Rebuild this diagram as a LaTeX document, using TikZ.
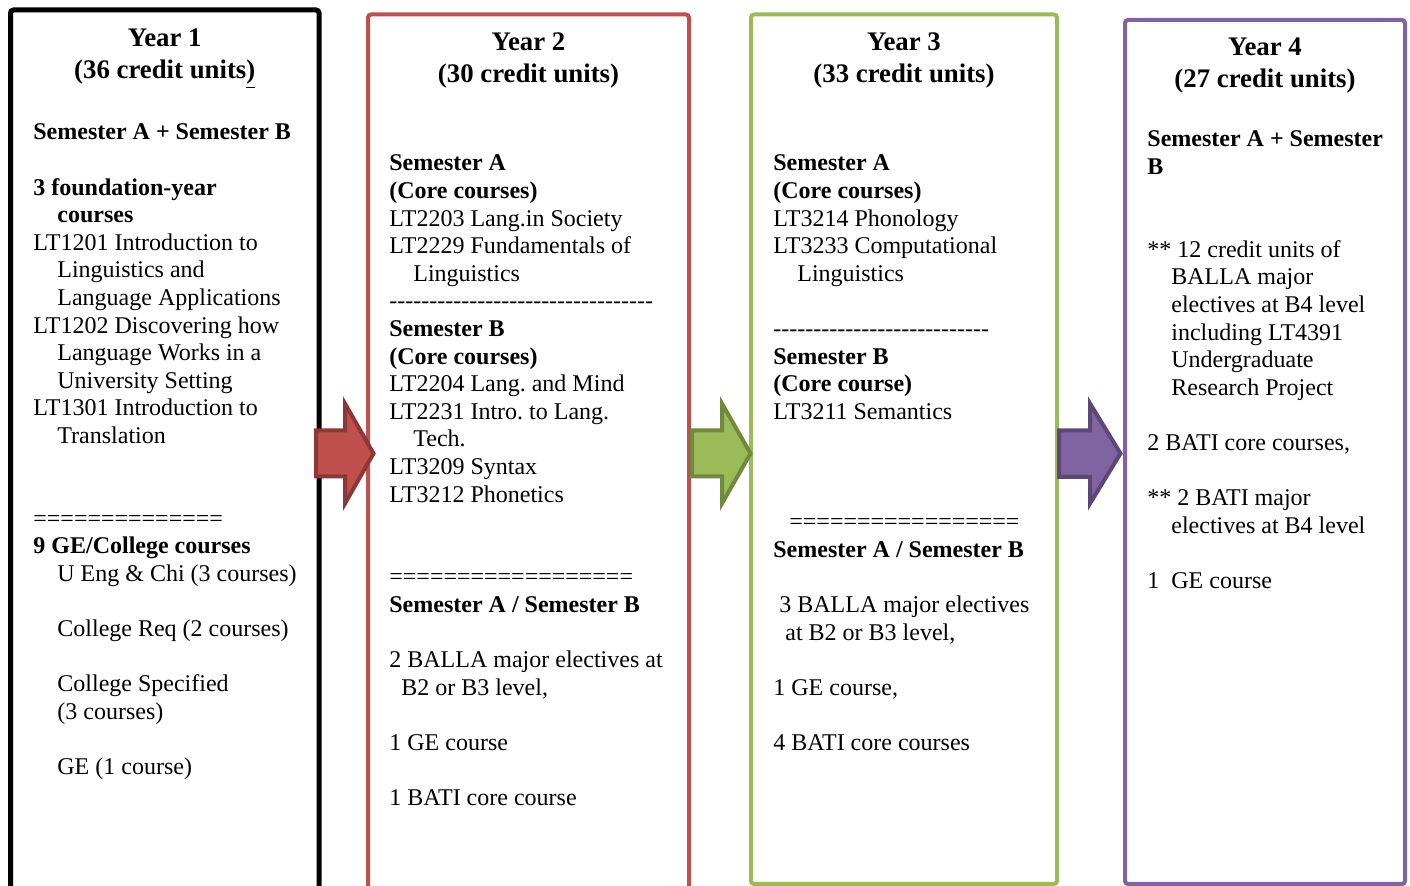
\documentclass[tikz,border=0pt]{standalone}
\usepackage{fontspec}
\setmainfont{Liberation Serif}
\usepackage{tikz}
\usetikzlibrary{positioning}
\definecolor{yrred}{HTML}{C0504D}
\definecolor{yrgreen}{HTML}{9BBB59}
\definecolor{yrpurple}{HTML}{8064A2}
\definecolor{yrredline}{HTML}{8C3836}
\definecolor{yrgreenline}{HTML}{71893F}
\definecolor{yrpurpleline}{HTML}{5C4776}
\newcommand\ind{\hspace*{12pt}}
\newcommand\skipl{\\[13.8pt]}
\newcommand\repchar[2]{\foreach\n in {1,...,#2}{\mbox{#1}}}
\frenchspacing
\tikzstyle{yearbox}=[draw,line width=2pt,outer sep=0pt,inner sep=0pt,anchor=north west,rounded corners=1.5pt]
\tikzstyle{yeartitle}=[font=\bfseries\fontsize{13.4}{16}\selectfont,align=center,inner sep=0pt,outer sep=0pt]
\tikzstyle{yeartext}=[font=\fontsize{12}{13.8}\selectfont,align=flush left,text width=170pt,inner sep=0pt,anchor=base west]
\tikzstyle{blockarrow}=[line width=2pt,line join=miter]
\begin{document}
\begin{tikzpicture}[x=0.5pt,y=-0.5pt]
	\useasboundingbox (0,0) rectangle (1410,886);
	\clip (0,0) rectangle (1410,886);
	% year boxes
	\node[yearbox,draw=black,line width=2.5pt,minimum width=154.25pt,minimum height=455pt] (y1) at (10.5,10) {};
	\node[yearbox,draw=yrred,minimum width=160.5pt,minimum height=453pt] (y2) at (368,14.5) {};
	\node[yearbox,draw=yrgreen,minimum width=153pt,minimum height=434.75pt] (y3) at (751,14.5) {};
	\node[yearbox,draw=yrpurple,minimum width=140pt,minimum height=432pt] (y4) at (1125,20) {};
	% titles
	\node[yeartitle,below=9.6pt of y1.north] (t1) {Year 1\\(36 credit units\underline{)}};
	\node[yeartitle,below=9.1pt of y2.north] (t2) {Year 2\\(30 credit units)};
	\node[yeartitle,below=9.1pt of y3.north] (t3) {Year 3\\(33 credit units)};
	\node[yeartitle,below=9.1pt of y4.north] (t4) {Year 4\\(27 credit units)};
	% course lists
	\node[yeartext] (c1) at (33,140) {\textbf{Semester A + Semester B}\skipl
		\textbf{3 foundation-year}\\
		\ind\textbf{courses}\\
		LT1201 Introduction to\\
		\ind Linguistics and\\
		\ind Language Applications\\
		LT1202 Discovering how\\
		\ind Language Works in a\\
		\ind University Setting\\
		LT1301 Introduction to\\
		\ind Translation\\[27.6pt]
		\repchar{=}{14}\\
		\textbf{9 GE/College courses}\\
		\ind U Eng \& Chi (3 courses)\skipl
		\ind College Req (2 courses)\skipl
		\ind College Specified\\
		\ind (3 courses)\skipl
		\ind GE (1 course)};
	\node[yeartext] (c2) at (389,171) {\textbf{Semester A}\\
		\textbf{(Core courses)}\\
		LT2203 Lang.in Society\\
		LT2229 Fundamentals of\\
		\ind Linguistics\\
		\repchar{-}{33}\\
		\textbf{Semester B}\\
		\textbf{(Core courses)}\\
		LT2204 Lang. and Mind\\
		LT2231 Intro. to Lang.\\
		\ind Tech.\\
		LT3209 Syntax\\
		LT3212 Phonetics\\[27.6pt]
		\repchar{=}{18}\\
		\textbf{Semester A / Semester B}\skipl
		2 BALLA major electives at\\
		\hspace*{6pt}B2 or B3 level,\skipl
		1 GE course\skipl
		1 BATI core course};
	\node[yeartext] (c3) at (773,171) {\textbf{Semester A}\\
		\textbf{(Core courses)}\\
		LT3214 Phonology\\
		LT3233 Computational\\
		\ind Linguistics\skipl
		\repchar{-}{27}\\
		\textbf{Semester B}\\
		\textbf{(Core course)}\\
		LT3211 Semantics\\[41.4pt]
		\hspace*{8pt}\repchar{=}{17}\\
		\textbf{Semester A / Semester B}\skipl
		\hspace*{3pt}3 BALLA major electives\\
		\hspace*{6pt}at B2 or B3 level,\skipl
		1 GE course,\skipl
		4 BATI core courses};
	\node[yeartext] (c4) at (1147,147) {\textbf{Semester A + Semester}\\
		\textbf{B}\\[27.6pt]
		** 12 credit units of\\
		\ind BALLA major\\
		\ind electives at B4 level\\
		\ind including LT4391\\
		\ind Undergraduate\\
		\ind Research Project\skipl
		2 BATI core courses,\skipl
		** 2 BATI major\\
		\ind electives at B4 level\skipl
		1\ \ GE course};
	% block arrows between the years
	\draw[blockarrow,draw=yrredline,fill=yrred] (316,430.5) -- (345,430.5) -- (345,403.5) -- (373.5,453.5) -- (345,503.5) -- (345,476.5) -- (316,476.5) -- cycle;
	\draw[blockarrow,draw=yrgreenline,fill=yrgreen] (692,430.5) -- (722,430.5) -- (722,403.5) -- (750.5,453.5) -- (722,503.5) -- (722,476.5) -- (692,476.5) -- cycle;
	\draw[blockarrow,draw=yrpurpleline,fill=yrpurple] (1059,430.5) -- (1090,430.5) -- (1090,403.5) -- (1120.5,453.5) -- (1090,503.5) -- (1090,477) -- (1059,477) -- cycle;
\end{tikzpicture}
\end{document}
